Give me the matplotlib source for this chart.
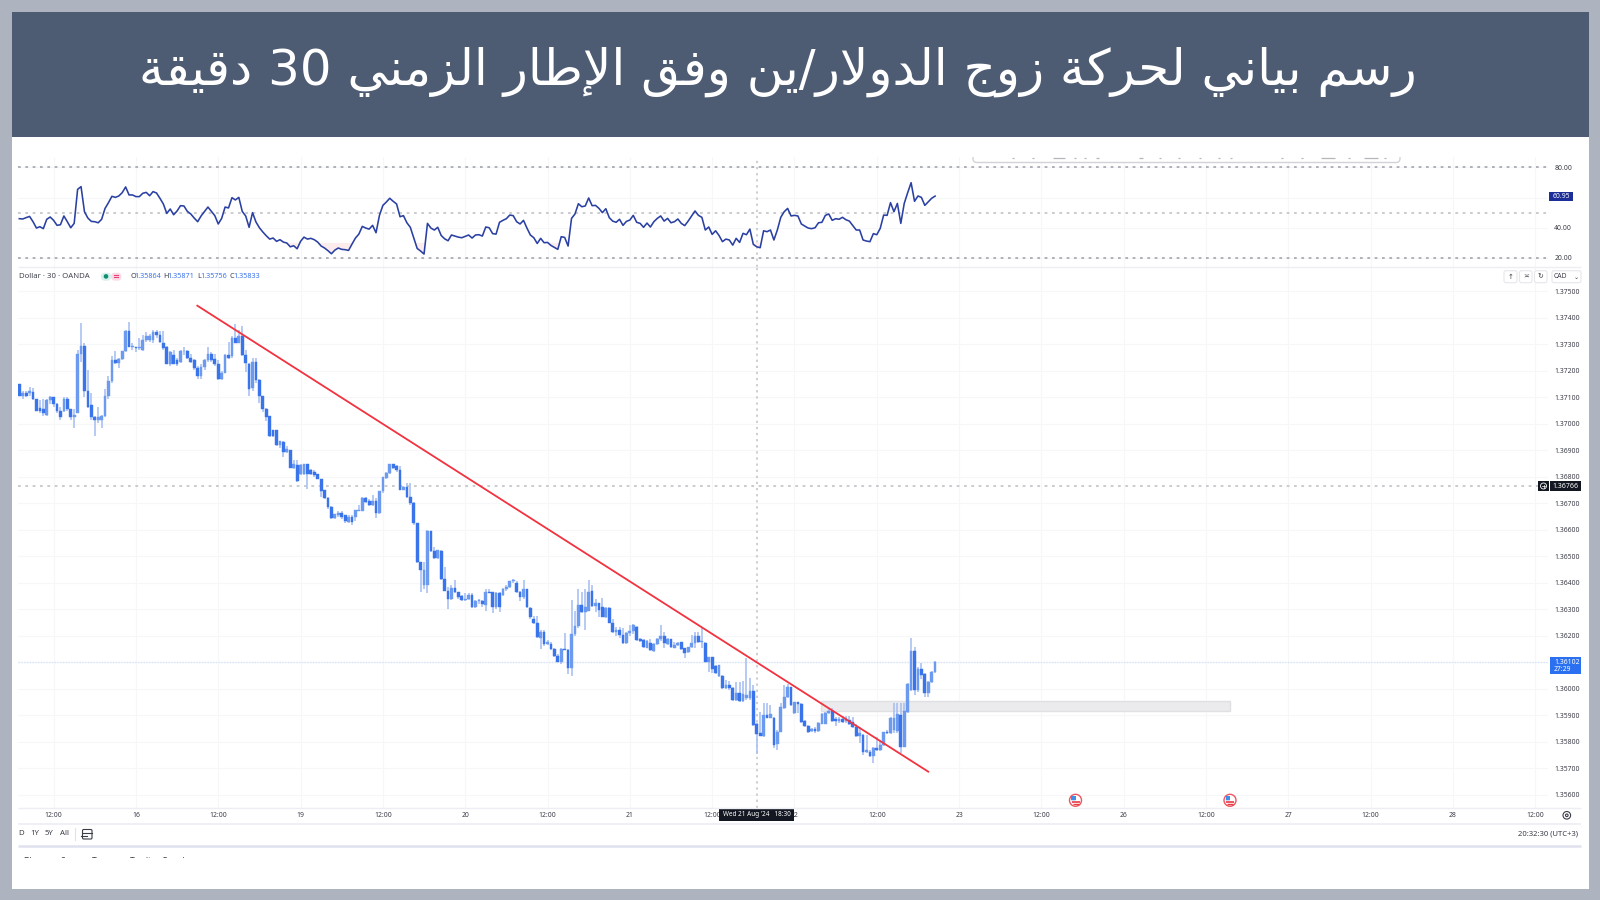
import numpy as np
import matplotlib
matplotlib.use("Agg")
import matplotlib.pyplot as plt
from matplotlib.patches import Rectangle, FancyBboxPatch, Circle, Wedge

plt.rcParams['font.family'] = ['Noto Sans', 'DejaVu Sans']

TITLE = "رسم بياني لحركة زوج الدولار/ين وفق الإطار الزمني 30 دقيقة"
PANE_NAME = "Dollar · 30 · OANDA"
OHLC_LEGEND = [("O", "1.35864"), ("H", "1.35871"), ("L", "1.35756"), ("C", "1.35833")]

# price quotes in units of 0.00001 CAD
opens_pts = [
    137150,137105,137115,137115,137120,137095,137060,137055,137035,137090,
    137100,137075,137050,137050,137095,137055,137025,137040,137265,137295,
    137125,137070,137025,137015,137015,137030,137105,137160,137240,137230,
    137245,137275,137350,137290,137290,137285,137280,137315,137315,137315,
    137345,137335,137305,137290,137225,137260,137240,137235,137275,137275,
    137250,137240,137210,137180,137215,137240,137265,137245,137225,137170,
    137190,137260,137255,137325,137305,137330,137260,137225,137135,137235,
    137165,137105,137055,137030,136975,136975,136920,136930,136895,136900,
    136835,136845,136810,136810,136850,136825,136820,136810,136790,136750,
    136720,136685,136645,136655,136665,136655,136630,136650,136650,136670,
    136670,136720,136710,136695,136710,136665,136745,136795,136815,136850,
    136840,136825,136750,136760,136725,136700,136625,136480,136390,136390,
    136595,136520,136495,136520,136415,136370,136340,136380,136365,136350,
    136335,136340,136355,136310,136330,136330,136315,136365,136365,136310,
    136360,136355,136375,136385,136405,136400,136365,136345,136375,136305,
    136265,136250,136190,136215,136170,136170,136150,136125,136100,136150,
    136145,136080,136205,136235,136315,136290,136295,136370,136312,136322,
    136307,136270,136306,136249,136215,136222,136203,136174,136209,136218,
    136234,136186,136184,136155,136171,136144,136169,136186,136199,136169,
    136186,136155,136165,136175,136152,136140,136156,136174,136199,136178,
    136174,136102,136118,136086,136048,136050,136003,136014,136001,135957,
    135985,135955,135964,135964,135993,135866,135832,135823,135901,135891,
    135891,135790,135838,135926,135967,136005,135907,135949,135942,135878,
    135860,135842,135847,135842,135867,135867,135907,135916,135884,135878,
    135884,135879,135882,135876,135857,135823,135825,135762,135762,135746,
    135777,135769,135788,135835,135832,135844,135842,135901,135781,135913,
    135995,136142,135995,136074,136054,135985,136025,136063]
closes_pts = [
    137105,137115,137105,137125,137095,137050,137050,137040,137090,137100,
    137075,137050,137025,137095,137055,137025,137035,137265,137295,137125,
    137065,137025,137015,137025,137030,137105,137160,137240,137230,137245,
    137275,137350,137290,137295,137285,137290,137315,137330,137330,137345,
    137335,137310,137285,137225,137270,137225,137225,137275,137275,137250,
    137235,137210,137180,137215,137240,137265,137240,137225,137170,137190,
    137260,137250,137325,137305,137330,137260,137230,137130,137235,137165,
    137105,137055,137025,136955,136955,136920,136935,136895,136905,136835,
    136850,136785,136845,136850,136810,136810,136805,136790,136745,136720,
    136685,136645,136660,136665,136650,136635,136650,136630,136675,136675,
    136720,136705,136695,136710,136665,136745,136800,136815,136850,136835,
    136825,136750,136760,136725,136700,136625,136480,136450,136450,136595,
    136520,136495,136525,136415,136370,136340,136380,136365,136345,136335,
    136340,136355,136310,136330,136335,136320,136365,136360,136310,136360,
    136310,136375,136385,136405,136410,136365,136345,136375,136310,136270,
    136250,136195,136215,136170,136175,136150,136125,136100,136150,136145,
    136080,136205,136235,136315,136290,136310,136365,136312,136322,136297,
    136272,136303,136249,136215,136222,136203,136171,136209,136218,136240,
    136184,136181,136156,136180,136146,136169,136188,136199,136171,136188,
    136159,136165,136174,136149,136136,136156,136174,136199,136178,136181,
    136102,136118,136073,136061,136088,136003,136014,136001,135957,135985,
    135955,135980,135976,135993,135863,135829,135823,135901,135891,135903,
    135788,135838,135930,135970,136005,135939,135949,135941,135876,135860,
    135838,135847,135839,135869,135905,135910,135916,135879,135878,135884,
    135876,135888,135867,135857,135823,135832,135762,135769,135746,135777,
    135769,135788,135835,135832,135888,135888,135905,135781,135915,136017,
    136142,135995,136074,136052,135985,136027,136064,136102]
highs_pts = [
    137150,137125,137125,137140,137135,137095,137090,137095,137095,137105,
    137100,137080,137065,137100,137100,137055,137055,137280,137380,137305,
    137205,137115,137030,137065,137035,137130,137180,137255,137275,137250,
    137275,137355,137385,137305,137290,137325,137335,137345,137340,137355,
    137355,137350,137350,137295,137275,137280,137250,137280,137290,137280,
    137265,137245,137220,137225,137245,137290,137270,137265,137240,137200,
    137265,137310,137330,137375,137355,137370,137280,137230,137250,137250,
    137170,137105,137060,137030,136975,136975,136935,136935,136915,136900,
    136865,136865,136850,136850,136850,136830,136825,136810,136790,136750,
    136725,136690,136660,136670,136670,136655,136655,136655,136675,136695,
    136725,136725,136715,136730,136720,136745,136800,136820,136850,136850,
    136845,136840,136765,136775,136775,136705,136625,136480,136480,136600,
    136595,136535,136525,136525,136460,136385,136390,136410,136365,136355,
    136360,136360,136360,136335,136340,136335,136375,136375,136365,136365,
    136365,136380,136390,136405,136415,136405,136370,136410,136375,136310,
    136275,136275,136220,136220,136185,136175,136155,136130,136155,136210,
    136150,136335,136295,136375,136365,136375,136410,136391,136337,136325,
    136341,136307,136310,136265,136234,136232,136228,136215,136240,136244,
    136237,136190,136186,136184,136186,136171,136190,136240,136213,136190,
    136188,136178,136178,136178,136155,136159,136203,136215,136215,136232,
    136178,136121,136121,136090,136091,136053,136033,136030,136008,136027,
    136027,136030,136115,136039,136014,135869,135913,135945,135945,135939,
    135895,135844,135947,136014,136018,136008,135951,135951,135945,135882,
    135863,135850,135857,135876,135907,135913,135926,135926,135894,135894,
    135898,135897,135897,135894,135867,135857,135828,135825,135769,135781,
    135819,135806,135838,135844,135892,135947,135947,135947,135947,136020,
    136190,136159,136083,136098,136058,136029,136067,136106]
lows_pts = [
    137105,137095,137100,137105,137090,137050,137040,137030,137030,137075,
    137065,137040,137015,137045,137050,137015,136985,137040,137235,137100,
    137060,137015,136955,137005,136985,137025,137095,137155,137225,137210,
    137240,137270,137290,137280,137270,137280,137275,137310,137310,137305,
    137325,137305,137280,137225,137220,137225,137220,137230,137260,137245,
    137230,137205,137170,137170,137205,137235,137235,137220,137165,137165,
    137190,137245,137250,137305,137305,137255,137195,137105,137125,137155,
    137080,137045,137010,136950,136950,136915,136910,136875,136890,136835,
    136830,136780,136805,136805,136755,136805,136800,136790,136725,136715,
    136680,136640,136640,136650,136640,136625,136625,136620,136635,136670,
    136670,136700,136690,136690,136645,136660,136740,136790,136810,136830,
    136820,136750,136750,136720,136695,136620,136475,136365,136375,136360,
    136515,136490,136490,136410,136370,136300,136335,136360,136340,136330,
    136330,136335,136305,136305,136320,136310,136295,136360,136285,136300,
    136290,136350,136370,136380,136400,136360,136330,136340,136305,136265,
    136245,136190,136150,136160,136165,136145,136120,136100,136095,136145,
    136055,136050,136200,136230,136285,136220,136295,136310,136291,136272,
    136270,136266,136247,136211,136199,136190,136169,136169,136200,136206,
    136181,136178,136152,136152,136142,136140,136165,136181,136152,136165,
    136152,136152,136161,136146,136115,136134,136152,136152,136171,136152,
    136100,136064,136058,136056,136045,136000,135998,135995,135955,135955,
    135951,135951,135957,135957,135859,135754,135823,135819,135888,135888,
    135775,135769,135835,135922,135964,135935,135905,135907,135872,135857,
    135832,135835,135834,135838,135866,135866,135905,135876,135861,135872,
    135872,135872,135863,135850,135819,135794,135750,135756,135741,135718,
    135766,135766,135784,135828,135829,135832,135832,135756,135779,135909,
    135992,135976,135989,136035,135967,135967,136020,136061]

rsi_values = [
    46.0,45.8,46.7,47.5,44.0,39.8,40.7,39.4,45.6,47.1,44.9,41.6,42.0,47.8,44.0,40.0,42.9,65.4,67.2,50.6,
    46.4,44.2,44.0,43.3,45.6,52.8,56.6,60.8,60.1,61.0,63.2,67.0,61.7,61.7,60.6,60.6,62.8,63.4,61.2,63.9,
    63.0,59.5,55.7,49.5,52.4,48.6,51.1,54.6,54.4,50.8,49.1,46.4,44.0,47.8,50.8,53.7,50.8,48.0,42.5,46.2,
    53.7,53.1,59.9,58.4,60.1,50.8,47.8,40.3,50.0,43.8,40.0,37.2,34.7,32.5,33.2,31.0,32.1,30.5,29.9,27.4,
    28.1,26.1,31.0,33.8,32.5,33.0,32.1,30.5,27.9,26.6,24.8,22.8,25.2,26.6,25.7,25.5,25.0,29.2,33.2,35.8,
    40.9,39.8,39.1,41.6,36.7,48.2,54.8,57.0,59.5,57.5,55.7,47.3,48.0,43.3,40.3,33.4,26.3,24.6,22.6,42.9,
    39.8,38.5,40.3,34.9,32.7,31.4,35.2,34.5,33.8,33.4,34.3,35.2,33.2,35.2,35.4,34.5,40.5,40.0,36.1,35.8,
    43.6,44.9,46.0,48.4,48.0,44.0,42.5,44.9,39.8,35.2,33.4,29.6,33.0,30.1,30.3,28.3,27.0,25.7,34.1,33.6,
    27.9,46.2,49.1,55.9,53.9,54.4,59.7,54.6,54.8,52.8,50.0,52.6,46.7,44.4,43.6,45.6,41.6,44.2,45.1,48.2,
    43.6,42.9,40.3,43.1,40.5,44.0,46.2,47.8,44.4,46.2,43.3,44.0,45.8,42.9,41.4,44.4,47.8,51.1,48.2,46.9,
    38.5,40.5,35.6,38.0,34.9,30.8,32.5,31.9,28.5,33.0,30.3,36.3,35.4,39.1,29.0,27.4,26.8,38.0,37.4,38.5,
    31.9,38.5,46.9,50.6,52.8,47.8,48.2,47.8,42.5,41.1,39.8,39.4,40.0,43.3,43.6,48.2,49.1,44.9,46.0,45.6,
    46.9,45.3,44.4,41.4,38.5,38.5,31.9,31.2,30.8,36.1,35.4,39.6,48.4,48.2,56.6,50.6,56.1,42.9,56.1,63.2,
    69.8,57.5,61.0,60.1,54.8,57.2,59.5,60.95]

price_ticks = [1.375,1.374,1.373,1.372,1.371,1.370,1.369,1.368,1.367,1.366,
               1.365,1.364,1.363,1.362,1.361,1.360,1.359,1.358,1.357,1.356]
rsi_ticks = [80, 60, 40, 20]
rsi_bands = [80, 50, 20]
time_bars = [10,34,58,82,106,130,154,178,202,226,250,274,298,322,346,370,394,418,442]
time_labels = ["12:00","16","12:00","19","12:00","20","12:00","21","12:00","22",
               "12:00","23","12:00","26","12:00","27","12:00","28","12:00"]
trend_bars = [51.9, 265.0]
trend_prices = [1.37446, 1.35687]
zone_bars = [233.7, 353.0]
zone_prices = [1.35917, 1.35955]
cross_bar = 215
cross_price = 1.36766
last_price = 1.36102
last_rsi = 60.95

opens = np.array(opens_pts) / 1e5
closes = np.array(closes_pts) / 1e5
highs = np.array(highs_pts) / 1e5
lows = np.array(lows_pts) / 1e5
bars = np.arange(len(closes))


def shape_arabic(text):
    """Join letters through presentation forms and lay them out visually (left to right)."""
    f = {'ا':(0xFE8D,0xFE8E),'إ':(0xFE87,0xFE88),'ب':(0xFE8F,0xFE90,0xFE91,0xFE92),
         'ة':(0xFE93,0xFE94),'ج':(0xFE9D,0xFE9E,0xFE9F,0xFEA0),'ح':(0xFEA1,0xFEA2,0xFEA3,0xFEA4),
         'د':(0xFEA9,0xFEAA),'ر':(0xFEAD,0xFEAE),'ز':(0xFEAF,0xFEB0),
         'س':(0xFEB1,0xFEB2,0xFEB3,0xFEB4),'ط':(0xFEC1,0xFEC2,0xFEC3,0xFEC4),
         'ف':(0xFED1,0xFED2,0xFED3,0xFED4),'ق':(0xFED5,0xFED6,0xFED7,0xFED8),
         'ك':(0xFED9,0xFEDA,0xFEDB,0xFEDC),'ل':(0xFEDD,0xFEDE,0xFEDF,0xFEE0),
         'م':(0xFEE1,0xFEE2,0xFEE3,0xFEE4),'ن':(0xFEE5,0xFEE6,0xFEE7,0xFEE8),
         'و':(0xFEED,0xFEEE),'ي':(0xFEF1,0xFEF2,0xFEF3,0xFEF4)}
    lam_alef = {'ا':(0xFEFB,0xFEFC),'إ':(0xFEF9,0xFEFA)}
    out, i, prev_joins = [], 0, False
    while i < len(text):
        ch = text[i]
        if ch not in f:
            out.append(ch); prev_joins = False; i += 1; continue
        nxt = text[i+1] if i+1 < len(text) else ''
        if ch == 'ل' and nxt in lam_alef:
            out.append(chr(lam_alef[nxt][1 if prev_joins else 0]))
            prev_joins = False; i += 2; continue
        forms = f[ch]
        next_ok = nxt in f and len(forms) == 4
        if prev_joins and next_ok:
            g = forms[3]
        elif prev_joins:
            g = forms[1]
        elif next_ok:
            g = forms[2]
        else:
            g = forms[0]
        out.append(chr(g))
        prev_joins = next_ok
        i += 1
    s = ''.join(out)[::-1]
    res, j = [], 0
    while j < len(s):
        if s[j].isdigit():
            k = j
            while k < len(s) and s[k].isdigit():
                k += 1
            res.append(s[j:k][::-1]); j = k
        else:
            res.append(s[j]); j += 1
    return ''.join(res)


W, H = 1600, 900
fig = plt.figure(figsize=(16, 9), dpi=100, facecolor='#adb4bf')

def axes_px(x0, y0, x1, y1, **kw):
    return fig.add_axes([x0/W, 1-y1/H, (x1-x0)/W, (y1-y0)/H], **kw)

# background
bg = fig.add_axes([0, 0, 1, 1], zorder=0)
bg.set_xlim(0, W); bg.set_ylim(H, 0); bg.axis('off')
bg.add_patch(Rectangle((12, 137), 1577, 752, fc='white', ec='none'))
bg.add_patch(Rectangle((12, 12), 1577, 125, fc='#4d5b73', ec='none'))
bg.text(778, 72, shape_arabic(TITLE), color='white', fontsize=36, ha='center', va='center',
        family=['DejaVu Sans'])

BAR_DX = 3.43
BAR_X0 = 19.3
xlim = ((18-BAR_X0)/BAR_DX, (1548-BAR_X0)/BAR_DX)
GRID = '#f6f7f9'
TXT = '#3b3e48'
LBL = 4.9

# RSI pane
ar = axes_px(18, 157, 1548, 267, zorder=1)
ar.patch.set_alpha(0)
ar.set_xlim(*xlim)
ar.set_ylim(14.04, 86.8)
ar.set_xticks(time_bars); ar.set_xticklabels([])
ar.set_yticks(rsi_ticks, [f"{v:.2f}" if v != 60 else "" for v in rsi_ticks])
ar.yaxis.tick_right()
ar.tick_params(length=0, labelsize=LBL, labelcolor=TXT, pad=4.5)
ar.grid(True, color=GRID, lw=0.8)
ar.set_axisbelow(True)
for s in ar.spines.values():
    s.set_visible(False)
for b, c in zip(rsi_bands, ['#9a9da5', '#bcbec4', '#9a9da5']):
    ar.axhline(b, color=c, lw=1.1, ls=(0, (1.8, 3)), zorder=2)
rsi = np.array(rsi_values)
ar.fill_between(bars, rsi, 30, where=rsi < 30, interpolate=True, color='#fdecec', lw=0, zorder=1)
ar.plot(bars, rsi, color='#2a40a2', lw=1.15, zorder=3, solid_joinstyle='round')
ar.axvline(cross_bar, color='#c0c2c8', lw=1.1, ls=(0, (1.5, 2.5)), zorder=2)

# price pane
ax = axes_px(18, 267, 1548, 807.7, zorder=1)
ax.patch.set_alpha(0)
ax.set_xlim(*xlim)
ax.set_ylim(1.35551, 1.37592)
ax.set_yticks(price_ticks, [f"{v:.5f}" for v in price_ticks])
ax.yaxis.tick_right()
ax.set_xticks(time_bars, time_labels)
ax.tick_params(length=0, labelsize=LBL, labelcolor=TXT)
ax.tick_params(axis='y', pad=4.9)
ax.tick_params(axis='x', pad=3.2)
ax.grid(True, color=GRID, lw=0.8)
ax.set_axisbelow(True)
for s in ax.spines.values():
    s.set_visible(False)

ax.axhline(cross_price, color='#bcbec4', lw=1.1, ls=(0, (1.8, 3)), zorder=2)
ax.axhline(last_price, color='#d6e4fb', lw=1.0, ls=(0, (1, 1)), zorder=2)
ax.axvline(cross_bar, color='#c0c2c8', lw=1.1, ls=(0, (1.5, 2.5)), zorder=2)
ax.add_patch(Rectangle((zone_bars[0], zone_prices[0]), zone_bars[1]-zone_bars[0],
                       zone_prices[1]-zone_prices[0], fc='#ebebed', ec='#dfe0e3', lw=1, zorder=2))

up = closes >= opens
ax.vlines(bars, lows, highs, color='#a6bff2', lw=1.15, zorder=3)
ax.bar(bars[up], (closes-opens)[up], bottom=opens[up], width=0.8, color='#6c9aee',
       edgecolor='#6c9aee', lw=0.3, zorder=4)
ax.bar(bars[~up], (closes-opens)[~up], bottom=opens[~up], width=0.8, color='#3a74ea',
       edgecolor='#3a74ea', lw=0.3, zorder=4)
ax.plot(trend_bars, trend_prices, color='#f2323f', lw=1.3, zorder=5)

# chrome on top
ov = fig.add_axes([0, 0, 1, 1], zorder=3)
ov.set_xlim(0, W); ov.set_ylim(H, 0); ov.axis('off'); ov.patch.set_alpha(0)

for y, c, lw in [(267, '#eceef3', 1), (808, '#eceef3', 1), (823.5, '#eceef3', 1.2), (846, '#dfe1ee', 1.8)]:
    ov.plot([18, 1581], [y, y], color=c, lw=lw, solid_capstyle='butt')

# strip cut off above the RSI pane
box = FancyBboxPatch((973, 130), 427, 32.5, boxstyle='round,pad=0,rounding_size=4',
                     fc='white', ec='#d2d3d6', lw=1.0)
ov.add_patch(box)
box.set_clip_path(Rectangle((960, 157), 460, 10, transform=ov.transData))
for x0, x1 in [(1012,1014),(1032,1034),(1053,1065),(1074,1076),(1084,1086),(1096,1099),(1139,1143),
               (1159,1161),(1178,1180),(1199,1201),(1218,1220),(1230,1232),(1281,1283),(1301,1303),
               (1321,1335),(1348,1350),(1364,1378),(1384,1386)]:
    ov.plot([x0, x1], [157.7, 157.7], color='#b5b7bc', lw=0.9, solid_capstyle='butt')

# legend row
ov.text(19.3, 276.3, PANE_NAME, fontsize=5.6, color='#43464f', va='center')
ov.add_patch(FancyBboxPatch((101, 272.7), 10, 8, boxstyle='round,pad=0,rounding_size=4', fc='#d8f0ea', ec='none'))
ov.add_patch(FancyBboxPatch((111, 272.7), 10.5, 8, boxstyle='round,pad=0,rounding_size=4', fc='#fbdbe5', ec='none'))
ov.add_patch(Circle((106, 276.4), 2.3, fc='#0c8f72', ec='none'))
ov.plot([113.5, 118], [275.4, 275.4], color='#e8417a', lw=0.8)
ov.plot([113.5, 118], [277.4, 277.4], color='#e8417a', lw=0.8)
for (letter, value), lx, vx in zip(OHLC_LEGEND, [130.7, 163.7, 197, 229.3], [134.5, 167.5, 200.3, 233.3]):
    ov.text(lx, 276.3, letter, fontsize=5.2, color='#3b3e48', va='center')
    ov.text(vx, 276.3, value, fontsize=5.2, color='#3a74ea', va='center')

# scale buttons
for x0, x1, s in [(1504, 1517, "↑"), (1519.5, 1532, "≍"), (1534.5, 1547, "↻")]:
    ov.add_patch(FancyBboxPatch((x0, 270.7), x1-x0, 12, boxstyle='round,pad=0,rounding_size=2',
                                fc='white', ec='#e6e7ec', lw=0.8))
    ov.text((x0+x1)/2, 276.7, s, fontsize=5, color='#3b3e48', ha='center', va='center', family=['DejaVu Sans'])
ov.add_patch(FancyBboxPatch((1552, 270.7), 29, 12, boxstyle='round,pad=0,rounding_size=2',
                            fc='white', ec='#e6e7ec', lw=0.8))
ov.text(1554, 276.7, "CAD", fontsize=4.9, color=TXT, va='center')
ov.text(1576.5, 277.5, "⌄", fontsize=4.5, color=TXT, ha='center', va='center', family=['DejaVu Sans'])

# value tags
ov.add_patch(Rectangle((1549, 191.7), 24, 9, fc='#1c2f99', ec='none'))
ov.text(1561, 196.2, f"{last_rsi:.2f}", fontsize=4.9, color='white', ha='center', va='center', fontweight='bold')
ov.add_patch(Rectangle((1538, 480.7), 11, 10.5, fc='#131722', ec='none'))
ov.add_patch(Circle((1543.5, 486), 3, fc='none', ec='white', lw=0.6))
ov.plot([1542, 1545], [486, 486], color='white', lw=0.5)
ov.plot([1543.5, 1543.5], [484.5, 487.5], color='white', lw=0.5)
ov.add_patch(Rectangle((1550, 480.7), 31, 10.5, fc='#131722', ec='none'))
ov.text(1565.5, 486, f"{cross_price:.5f}", fontsize=5, color='white', ha='center', va='center', fontweight='bold')
ov.add_patch(Rectangle((1549.5, 657.3), 31, 17, fc='#2a70f0', ec='none'))
ov.text(1554, 662, f"{last_price:.5f}", fontsize=4.9, color='white', va='center', fontweight='bold')
ov.text(1554, 669.5, "27:29", fontsize=4.9, color='white', va='center')

# crosshair time tag
ov.add_patch(Rectangle((719, 808), 75, 13, fc='#131722', ec='none'))
ov.text(756.5, 814.8, "Wed 21 Aug '24   18:30", fontsize=4.6, color='white', ha='center', va='center', fontweight='bold')

# economic event markers
for ex in [1075.5, 1230]:
    ov.add_patch(Circle((ex, 800.3), 6, fc='white', ec='#f0555e', lw=1.0))
    ov.add_patch(Wedge((ex, 800.3), 4.3, 180, 270, fc='#3f8fe8', ec='none'))
    ov.add_patch(Rectangle((ex-4.3, 796), 4.3, 4.3, fc='#3f8fe8', ec='none'))
    ov.plot([ex-4, ex+4], [801.5, 801.5], color='#e83a45', lw=1.2, solid_capstyle='butt')
    ov.plot([ex-3, ex+3], [804, 804], color='#e83a45', lw=1.0, solid_capstyle='butt')

# bottom toolbar
for x, s in [(18.5, "D"), (30.5, "1Y"), (45, "5Y"), (59.5, "All")]:
    ov.text(x, 833.7, s, fontsize=5.6, color=TXT, va='center')
ov.plot([74.7, 74.7], [828, 840], color='#e0e3eb', lw=0.8)
ov.add_patch(FancyBboxPatch((82.5, 829.5), 9.5, 9.5, boxstyle='round,pad=0,rounding_size=1.2', fc='none', ec='#3b3e48', lw=0.8))
ov.plot([82.5, 92], [832.5, 832.5], color='#3b3e48', lw=0.8)
ov.plot([81, 87], [836, 836], color='#3b3e48', lw=0.8)
ov.text(1578, 833.7, "20:32:30 (UTC+3)", fontsize=5.5, color=TXT, ha='right', va='center')
ov.add_patch(Circle((1566.8, 815.3), 3.8, fc='none', ec='#3b3e48', lw=0.8))
ov.add_patch(Circle((1566.8, 815.3), 1.3, fc='none', ec='#3b3e48', lw=0.8))

# tab strip cut off at the crop edge
clip = Rectangle((12, 850), 1577, 8, transform=ov.transData)
for x, s in [(23, "Filter"), (61, "Strat"), (92, "Test"), (130, "Trading Panel")]:
    t = ov.text(x, 861.5, s, fontsize=6, color='#3b3e48', va='center', clip_on=True)
    t.set_clip_path(clip)

fig.savefig('out.png', dpi=100, facecolor=fig.get_facecolor())
